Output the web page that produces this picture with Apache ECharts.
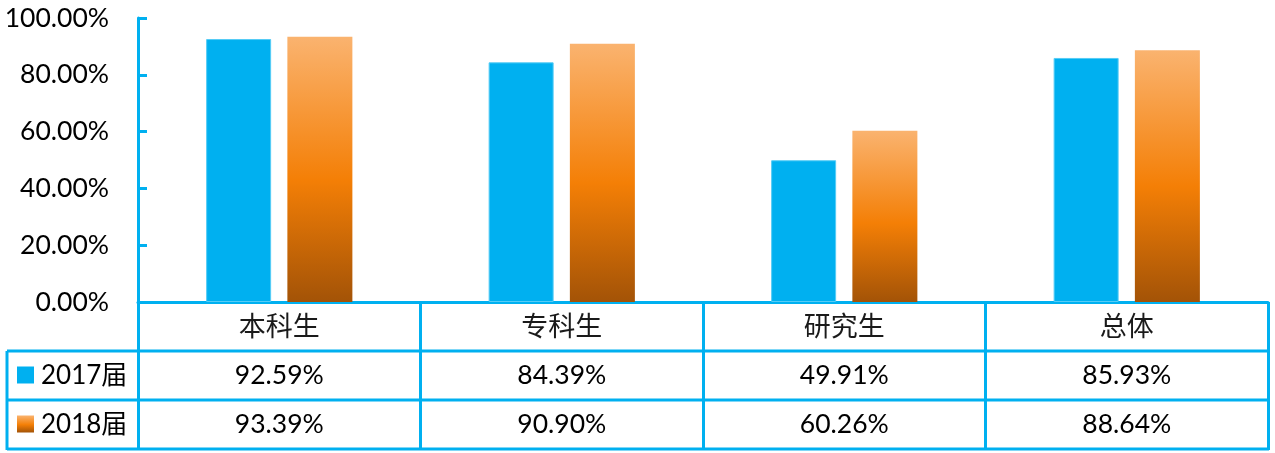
<!DOCTYPE html>
<html><head><meta charset="utf-8">
<script src="https://cdn.jsdelivr.net/npm/echarts@6/dist/echarts.min.js"></script>
<style>html,body{margin:0;padding:0;background:#fff}#c{width:1275px;height:453px}</style>
</head><body><div id="c"></div>
<script>
const categories = ['本科生', '专科生', '研究生', '总体'];
const seriesNames = ['2017届', '2018届'];
const values2017 = [92.59, 84.39, 49.91, 85.93];
const values2018 = [93.39, 90.90, 60.26, 88.64];
const yTicks = [0, 20, 40, 60, 80, 100];

const BLUE = '#00B0F0';
const NUMFONT = 'Lato, "Noto Sans CJK SC", sans-serif';
const CJKFONT = '"Noto Sans CJK SC", sans-serif';
const orangeGrad = () => new echarts.graphic.LinearGradient(0, 0, 0, 1, [
  {offset: 0, color: '#FAB36F'},
  {offset: 0.54, color: '#F47F06'},
  {offset: 1, color: '#A35307'}
]);

const chart = echarts.init(document.getElementById('c'), null, {renderer: 'canvas'});
const gridL = 138, gridR = 7, gridT = 18, gridB = 151;
chart.setOption({
  animation: false,
  grid: {left: gridL, right: gridR, top: gridT, bottom: gridB, containLabel: false},
  xAxis: {
    type: 'category', data: categories, boundaryGap: true,
    axisLine: {lineStyle: {color: BLUE, width: 3}},
    axisTick: {show: true, interval: 0, length: 148, lineStyle: {color: BLUE, width: 3}},
    axisLabel: {interval: 0, margin: 24, verticalAlign: 'middle', fontFamily: CJKFONT, fontSize: 27, color: '#1a1a1a'},
    splitLine: {show: false}
  },
  yAxis: {
    type: 'value', min: yTicks[0], max: yTicks[yTicks.length - 1], interval: 20,
    axisLine: {show: true, lineStyle: {color: BLUE, width: 3}},
    axisTick: {show: true, inside: true, length: 9, lineStyle: {color: BLUE, width: 3}},
    axisLabel: {margin: 29, fontFamily: NUMFONT, fontSize: 26.5, color: '#000', formatter: v => v.toFixed(2) + '%'},
    splitLine: {show: false}
  },
  series: [
    {name: seriesNames[0], type: 'bar', data: values2017, barWidth: 65, barGap: '25%',
     itemStyle: {color: BLUE, borderColor: '#55CCF6', borderWidth: 1}},
    {name: seriesNames[1], type: 'bar', data: values2018, barWidth: 65,
     itemStyle: {color: orangeGrad()}}
  ]
});

// data table below the axis
const y0 = chart.convertToPixel({yAxisIndex: 0}, 0);
const xLeft = 7;
const xRight = chart.convertToPixel({xAxisIndex: 0}, categories[categories.length - 1]) +
  (chart.convertToPixel({xAxisIndex: 0}, categories[1]) - chart.convertToPixel({xAxisIndex: 0}, categories[0])) / 2;
const rowH = 49;
const r1 = y0 + rowH, r2 = y0 + 2 * rowH, r3 = y0 + 3 * rowH;
const lineStyle = {stroke: BLUE, lineWidth: 3};
const els = [];
[r1, r2, r3].forEach(y => els.push({type: 'line', shape: {x1: xLeft, y1: y, x2: xRight + 1, y2: y}, style: lineStyle, z: 10}));
els.push({type: 'line', shape: {x1: xLeft, y1: r1, x2: xLeft, y2: r3 + 1}, style: lineStyle, z: 10});
const rows = [values2017, values2018];
rows.forEach((vals, ri) => {
  const cy = y0 + rowH * (ri + 1) + rowH / 2;
  vals.forEach((v, ci) => {
    const cx = chart.convertToPixel({xAxisIndex: 0}, categories[ci]);
    els.push({type: 'text', x: cx, y: cy, style: {text: v.toFixed(2) + '%', fontFamily: NUMFONT, fontSize: 26.5, fill: '#000', align: 'center', verticalAlign: 'middle'}, z: 10});
  });
  els.push({type: 'rect', shape: {x: 17, y: cy - 9, width: 17, height: 17},
    style: {fill: ri === 0 ? BLUE : orangeGrad()}, z: 10});
  els.push({type: 'text', x: 41, y: cy, style: {text: seriesNames[ri], fontFamily: NUMFONT, fontSize: 26, fill: '#000', align: 'left', verticalAlign: 'middle'}, z: 10});
});
chart.setOption({graphic: {elements: els}});
</script></body></html>
